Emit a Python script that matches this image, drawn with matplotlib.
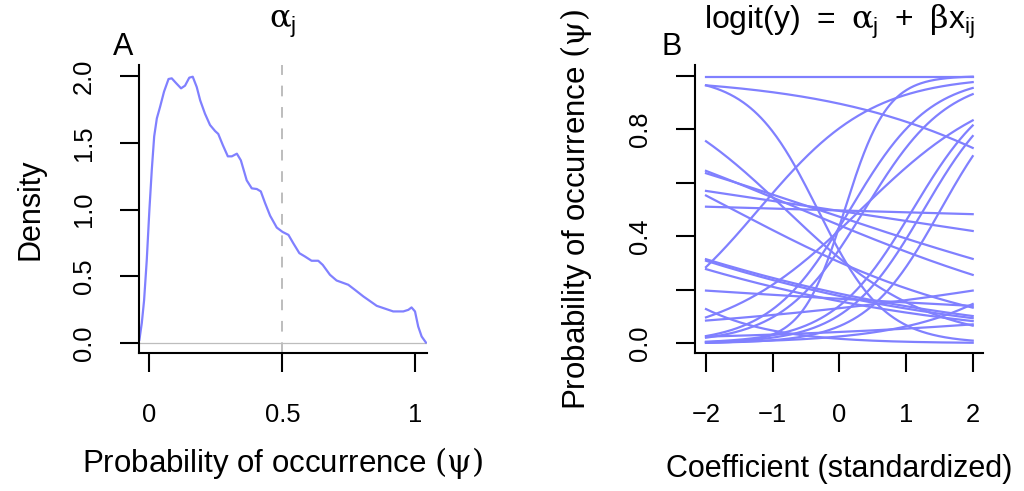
import numpy as np
import matplotlib
matplotlib.use('Agg')
import matplotlib.pyplot as plt

plt.rcParams['font.family'] = ['Liberation Sans', 'DejaVu Sans']
plt.rcParams['mathtext.fontset'] = 'custom'
plt.rcParams['mathtext.rm'] = 'DejaVu Serif'
plt.rcParams['mathtext.it'] = 'DejaVu Serif'
plt.rcParams['mathtext.sf'] = 'Liberation Sans'
plt.rcParams['mathtext.bf'] = 'Liberation Sans:bold'
plt.rcParams['mathtext.default'] = 'rm'

# ---------------- Panel A: density of alpha_j on the probability scale
dens_x = [-0.0376, -0.0286, -0.020, -0.010, 0.000, 0.009, 0.018, 0.028, 0.040, 0.055,
          0.072, 0.084, 0.100, 0.119, 0.134, 0.150, 0.163, 0.178, 0.191, 0.209,
          0.228, 0.247, 0.259, 0.276, 0.295, 0.310, 0.329, 0.344, 0.366, 0.385,
          0.404, 0.419, 0.435, 0.454, 0.479, 0.501, 0.523, 0.541, 0.564, 0.585,
          0.610, 0.635, 0.652, 0.679, 0.704, 0.748, 0.773, 0.805, 0.823, 0.855,
          0.892, 0.917, 0.955, 0.974, 0.986, 0.999, 1.011, 1.024, 1.040]
dens_y = [0.025, 0.15, 0.32, 0.62, 1.00, 1.30, 1.55, 1.685, 1.77, 1.885,
          1.98, 1.985, 1.95, 1.91, 1.93, 1.99, 1.997, 1.92, 1.82, 1.72,
          1.635, 1.59, 1.568, 1.485, 1.40, 1.40, 1.42, 1.37, 1.22, 1.16,
          1.155, 1.137, 1.05, 0.955, 0.866, 0.833, 0.811, 0.749, 0.674, 0.649,
          0.617, 0.617, 0.586, 0.512, 0.469, 0.437, 0.399, 0.349, 0.324, 0.279,
          0.254, 0.237, 0.237, 0.249, 0.267, 0.237, 0.124, 0.049, 0.004]
ref_line = 0.5
a_xticks = [0, 0.5, 1]
a_xticklabels = ['0', '0.5', '1']
a_yticks = [0.0, 0.5, 1.0, 1.5, 2.0]
a_yticklabels = ['0.0', '0.5', '1.0', '1.5', '2.0']

# ---------------- Panel B: species logistic curves (intercept alpha_j, slope beta)
alpha_j = [5.29, 2.157, -0.64, -0.76, -0.235, -0.107, -0.02, -0.83, -0.012, 1.415,
           -1.477, -1.536, -1.679, -1.61, -4.066, -0.309, -1.89, -0.264, -0.613,
           -1.814, -2.14, -2.683, -3.638, -3.118, -0.25]
beta_j = [0.0, -0.579, -1.977, -0.945, -0.416, -0.333, -0.151, -0.521, -0.028, 1.167,
          -0.349, -0.365, -0.361, -0.103, -1.074, 0.961, 0.243, 1.66, 1.615,
          1.648, 1.689, 1.765, 0.94, 0.273, 3.12]
b_xticks = [-2, -1, 0, 1, 2]
b_yticks = [0.0, 0.2, 0.4, 0.6, 0.8, 1.0]
b_yticklabels = ['0.0', '', '0.4', '', '0.8', '']

line_col = '#8080FF'
W, H = 1024, 491
fig = plt.figure(figsize=(W / 100, H / 100), dpi=100)

def px_axes(x0, x1, y0, y1):
    return fig.add_axes([x0 / W, 1 - y1 / H, (x1 - x0) / W, (y1 - y0) / H])

tick_fs = 18.4
lab_fs = 22.5

def style(ax):
    for s in ['top', 'right']:
        ax.spines[s].set_visible(False)
    for s in ['left', 'bottom']:
        ax.spines[s].set_linewidth(1.5)
    ax.tick_params(axis='both', length=14, width=1.5, labelsize=tick_fs, color='black')
    ax.tick_params(axis='x', pad=22)
    ax.tick_params(axis='y', pad=17)

# Panel A
axA = px_axes(139.3, 426.7, 65, 353.3)
axA.plot(dens_x, dens_y, color=line_col, lw=1.6, solid_joinstyle='round')
axA.axhline(0, color='#bdbdbd', lw=0.9, zorder=0)
axA.axvline(ref_line, color='#bdbdbd', lw=1.4, dashes=(5.5, 5.5), zorder=0)
axA.set_xlim(-0.038, 1.043)
axA.set_ylim(-0.077, 2.085)
style(axA)
axA.set_xticks(a_xticks)
axA.set_xticklabels(a_xticklabels)
axA.set_yticks(a_yticks)
axA.set_yticklabels(a_yticklabels, rotation=90, va='center')
axA.set_xlabel(r'Probability of occurrence $(\psi)$', fontsize=lab_fs)
axA.xaxis.set_label_coords(0.5, (353.3 - 463) / 288.3)
axA.xaxis.label.set_va('center')
axA.set_ylabel('Density', fontsize=22, va='center')
axA.yaxis.set_label_coords((31 - 139.3) / 287.4, 0.5)
axA.set_title(r'$\alpha_{\mathsf{j}}$', fontsize=23, pad=0, y=(353.3 - 24) / 288.3, va='center')
fig.text(123 / W, 1 - 47 / H, 'A', fontsize=22, ha='center', va='center')

# Panel B
axB = px_axes(695, 983.3, 65, 353.3)
xs = np.linspace(-2, 2, 300)
for a, b in zip(alpha_j, beta_j):
    axB.plot(xs, 1 / (1 + np.exp(-(a + b * xs))), color=line_col, lw=1.6)
axB.set_xlim(-2.165, 2.159)
axB.set_ylim(-0.0374, 1.041)
style(axB)
axB.set_xticks(b_xticks)
axB.set_yticks(b_yticks)
axB.set_yticklabels(b_yticklabels, rotation=90, va='center')
axB.set_xlabel('Coefficient (standardized)', fontsize=22)
axB.xaxis.set_label_coords(0.5, (353.3 - 469) / 288.3)
axB.xaxis.label.set_va('center')
axB.set_ylabel(r'Probability of occurrence $(\psi)$', fontsize=lab_fs, va='center')
axB.yaxis.set_label_coords((576 - 695) / 288.3, 0.5)
axB.set_title(r'$\mathsf{logit(y)\ =\ }\alpha_{\mathsf{j}}\mathsf{\ +\ }\beta\mathsf{x}_{\mathsf{ij}}$',
              fontsize=23, pad=0, y=(353.3 - 22) / 288.3, va='center')
fig.text(672 / W, 1 - 47 / H, 'B', fontsize=22, ha='center', va='center')

fig.savefig('out.png', dpi=100)
